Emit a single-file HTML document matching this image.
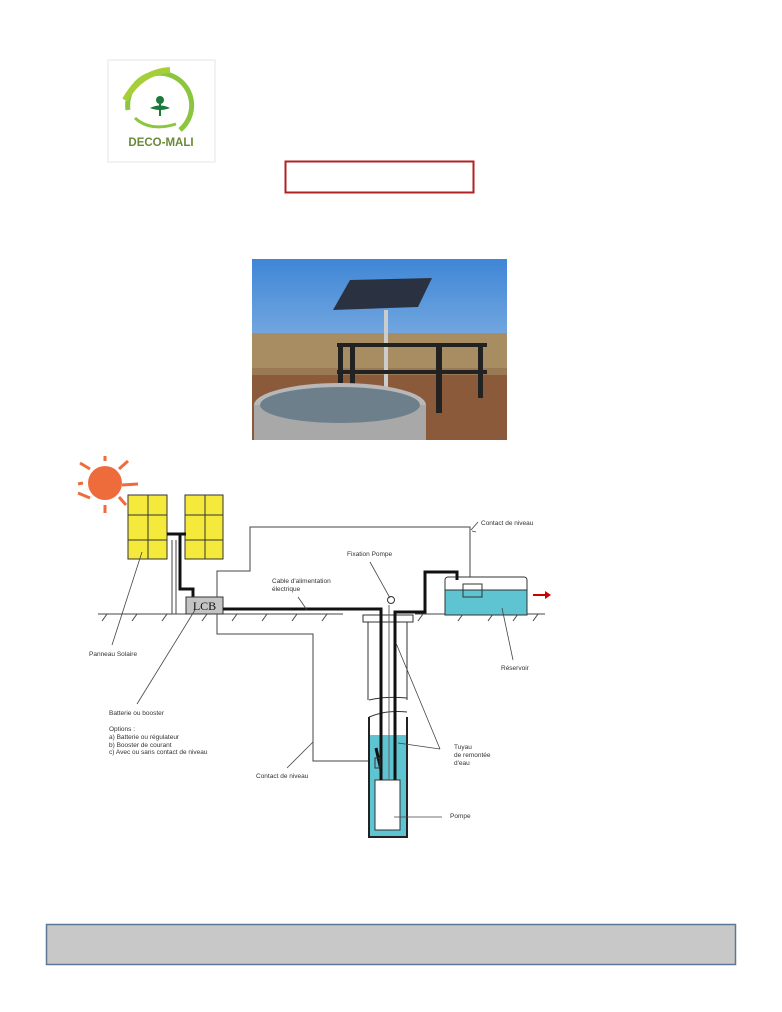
<!DOCTYPE html>
<html><head><meta charset="utf-8"><style>
body{margin:0;background:#fff;}
.page{position:relative;width:782px;height:1012px;overflow:hidden;font-family:"Liberation Sans",sans-serif;}
</style></head><body><div class="page">
<svg width="782" height="1012" viewBox="0 0 782 1012" style="position:absolute;left:0;top:0">
<!-- logo -->
<rect x="108" y="60" width="107" height="102" fill="#fff" stroke="#e6e6e6"/>
<path d="M128 110 A32 32 0 1 1 180 130" fill="none" stroke="#8cc63f" stroke-width="5"/>
<path d="M125 100 Q140 72 170 70" fill="none" stroke="#a6ce39" stroke-width="6"/>
<path d="M135 118 Q150 132 176 124" fill="none" stroke="#8cc63f" stroke-width="3"/>
<circle cx="160" cy="100" r="4" fill="#1a7a3c"/>
<path d="M150 108 Q160 103 170 108 Q160 112 150 108Z" fill="#1a7a3c"/>
<line x1="160" y1="104" x2="160" y2="116" stroke="#1a7a3c" stroke-width="2"/>
<text x="161" y="146" font-size="11.5" font-weight="bold" fill="#6a8a3a" text-anchor="middle">DECO-MALI</text>
<rect x="285.5" y="161.5" width="188" height="31" fill="#fff" stroke="#b22222" stroke-width="2"/>
<!-- photo -->
<defs><linearGradient id="sky" x1="0" y1="0" x2="0" y2="1"><stop offset="0" stop-color="#3f86d6"/><stop offset="1" stop-color="#b9d3ec"/></linearGradient></defs>
<rect x="252" y="259" width="255" height="181" fill="url(#sky)"/>
<rect x="252" y="333" width="255" height="107" fill="#9a7a55"/>
<rect x="252" y="333" width="255" height="35" fill="#a88c62"/>
<rect x="252" y="375" width="255" height="65" fill="#8a5a3a"/>
<polygon points="333,310 350,280 432,278 418,307" fill="#2a3242"/>
<rect x="384" y="310" width="4" height="90" fill="#ccc"/>
<rect x="337" y="343" width="150" height="4" fill="#222"/>
<rect x="337" y="370" width="150" height="4" fill="#222"/>
<rect x="338" y="343" width="5" height="50" fill="#222"/><rect x="350" y="343" width="5" height="50" fill="#222"/><rect x="436" y="343" width="6" height="70" fill="#222"/><rect x="478" y="343" width="5" height="55" fill="#222"/>
<ellipse cx="340" cy="405" rx="86" ry="22" fill="#b8b8b8"/>
<rect x="254" y="405" width="172" height="35" fill="#a8a8a8"/>
<ellipse cx="340" cy="405" rx="80" ry="18" fill="#6e7f8c"/>
<!-- sun -->
<circle cx="105" cy="483" r="17" fill="#ee6c3c"/>
<g stroke="#ee6c3c" stroke-width="3">
<line x1="105" y1="461" x2="105" y2="456"/><line x1="105" y1="505" x2="105" y2="513"/>
<line x1="83" y1="483" x2="78" y2="484"/><line x1="122" y1="485" x2="138" y2="484"/>
<line x1="119" y1="469" x2="128" y2="461"/><line x1="90" y1="469" x2="80" y2="463"/>
<line x1="90" y1="498" x2="78" y2="493"/><line x1="119" y1="497" x2="126" y2="505"/>
</g>
<!-- panels -->
<g fill="#f5ea3c" stroke="#333" stroke-width="1">
<rect x="128" y="495" width="39" height="64"/><rect x="185" y="495" width="38" height="64"/>
</g>
<g stroke="#333" stroke-width="1">
<line x1="148" y1="495" x2="148" y2="559"/><line x1="128" y1="515" x2="167" y2="515"/><line x1="128" y1="540" x2="167" y2="540"/>
<line x1="205" y1="495" x2="205" y2="559"/><line x1="185" y1="515" x2="223" y2="515"/><line x1="185" y1="540" x2="223" y2="540"/>
</g>
<path d="M167 534 H186 M180 534 V589 H193 V597" fill="none" stroke="#111" stroke-width="3"/>
<path d="M172 540 V614 M176 540 V614" fill="none" stroke="#444" stroke-width="1"/>
<!-- ground -->
<line x1="98" y1="614" x2="343" y2="614" stroke="#444"/>
<line x1="415" y1="614" x2="545" y2="614" stroke="#444"/>
<g stroke="#444">
<line x1="102" y1="621" x2="107" y2="614"/><line x1="132" y1="621" x2="137" y2="614"/><line x1="162" y1="621" x2="167" y2="614"/><line x1="202" y1="621" x2="207" y2="614"/><line x1="232" y1="621" x2="237" y2="614"/><line x1="262" y1="621" x2="267" y2="614"/><line x1="292" y1="621" x2="297" y2="614"/><line x1="322" y1="621" x2="327" y2="614"/>
<line x1="418" y1="621" x2="423" y2="614"/><line x1="458" y1="621" x2="463" y2="614"/><line x1="488" y1="621" x2="493" y2="614"/><line x1="513" y1="621" x2="518" y2="614"/><line x1="533" y1="621" x2="538" y2="614"/>
</g>
<!-- LCB -->
<rect x="186" y="597" width="37" height="17" fill="#c4c4c4" stroke="#333"/>
<text x="204.5" y="610" font-family="Liberation Serif,serif" font-size="12" text-anchor="middle" fill="#111">LCB</text>
<!-- thin wires -->
<path d="M217 597 V571 H250 V527 H470 V580" fill="none" stroke="#444"/>
<path d="M217 614 V634 H313 V761 H372" fill="none" stroke="#444"/>
<!-- tank -->
<rect x="445" y="577" width="82" height="38" rx="3" fill="#fff" stroke="#333"/>
<rect x="445" y="590" width="82" height="25" fill="#5fc4d2" stroke="#333"/>
<rect x="463" y="584" width="19" height="13" fill="none" stroke="#333"/>
<path d="M533 595 H545" stroke="#c00" stroke-width="2"/><polygon points="545,591 551,595 545,599" fill="#c00"/>
<!-- well -->
<rect x="363" y="615" width="50" height="7" fill="#fff" stroke="#333"/>
<line x1="368" y1="622" x2="368" y2="700" stroke="#333"/><line x1="407" y1="622" x2="407" y2="700" stroke="#333"/>
<path d="M369 700 Q385 696 407 698" fill="none" stroke="#333"/><path d="M369 717 Q385 710 407 712" fill="none" stroke="#333"/>
<rect x="369" y="735" width="38" height="102" fill="#5fc4d2"/>
<path d="M369 717 V837 H407 V717" fill="none" stroke="#222" stroke-width="2"/>
<rect x="375" y="780" width="25" height="50" fill="#fff" stroke="#333"/>
<!-- thick pipes -->
<path d="M223 609 H381 V780" fill="none" stroke="#111" stroke-width="3"/>
<path d="M395 780 V612 H425 V572 H457 V580" fill="none" stroke="#111" stroke-width="3"/>
<line x1="389" y1="605" x2="389" y2="780" stroke="#666"/>
<circle cx="391" cy="600" r="3.5" fill="#fff" stroke="#333"/>
<path d="M376 748 L381 770" stroke="#111" stroke-width="3"/><rect x="375" y="758" width="5" height="10" fill="none" stroke="#333"/>
<!-- leaders -->
<g stroke="#444" stroke-width="0.8" fill="none">
<line x1="142" y1="552" x2="112" y2="645"/><line x1="195" y1="610" x2="137" y2="704"/>
<line x1="370" y1="562" x2="390" y2="598"/><line x1="298" y1="597" x2="307" y2="610"/>
<line x1="476" y1="532" x2="472" y2="531"/><line x1="471" y1="530" x2="478" y2="522"/>
<line x1="502" y1="608" x2="513" y2="660"/><line x1="396" y1="643" x2="440" y2="749"/><line x1="398" y1="743" x2="440" y2="749"/>
<line x1="313" y1="742" x2="287" y2="768"/><line x1="394" y1="817" x2="442" y2="817"/>
</g>
<g font-size="6.5" fill="#333">
<text x="89" y="656">Panneau Solaire</text>
<text x="481" y="525">Contact de niveau</text>
<text x="347" y="556">Fixation Pompe</text>
<text x="272" y="583">Cable d'alimentation</text><text x="272" y="591">électrique</text>
<text x="501" y="670">Réservoir</text>
<text x="109" y="715">Batterie ou booster</text>
<text x="109" y="731">Options :</text>
<text x="109" y="739">a) Batterie ou régulateur</text>
<text x="109" y="747">b) Booster de courant</text>
<text x="109" y="754">c) Avec ou sans contact de niveau</text>
<text x="454" y="749">Tuyau</text><text x="454" y="757">de remontée</text><text x="454" y="765">d'eau</text>
<text x="256" y="778">Contact de niveau</text>
<text x="450" y="818">Pompe</text>
</g>
<!-- footer -->
<rect x="46.5" y="924.5" width="689" height="40" fill="#c8c8c8" stroke="#5a7896" stroke-width="1.5"/>
</svg>
</div></body></html>
